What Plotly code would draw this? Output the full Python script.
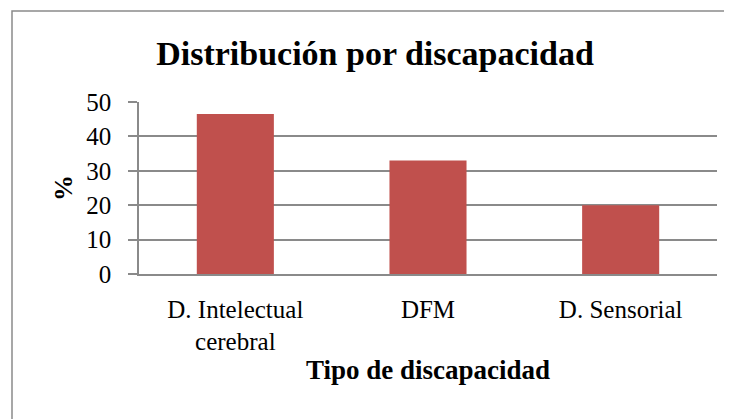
import plotly.graph_objects as go

categories = ["D. Intelectual<br>cerebral", "DFM", "D. Sensorial"]
values = [46.5, 33.0, 20.0]
y_ticks = [0, 10, 20, 30, 40, 50]

title_text = "Distribución por discapacidad"
x_title = "Tipo de discapacidad"
y_title = "%"

FONT = "Liberation Serif"
GRID = "#8a8a8a"

fig = go.Figure(go.Bar(x=categories, y=values, marker=dict(color="#C0504D", line=dict(width=0)), width=0.4))

# page body has an 8px margin, so the figure is sized to fit the window
W, H = 724, 411
L, R, T, B = 131, 15, 94, 145
pw = W - L - R
ph = H - T - B

fig.update_layout(
    width=W, height=H,
    margin=dict(l=L, r=R, t=T, b=B),
    paper_bgcolor="white", plot_bgcolor="white",
    showlegend=False,
    font=dict(family=FONT, size=25, color="black"),
    title=dict(text="<b>" + title_text + "</b>", x=367 / W, xref="container", xanchor="center",
               y=1 - 45 / H, yanchor="middle", font=dict(family=FONT, size=34, color="black")),
    xaxis=dict(showgrid=False, showline=True, linecolor=GRID, linewidth=1.5, ticks="",
               ticklabelstandoff=12,
               title=dict(text="<b>" + x_title + "</b>", font=dict(size=27), standoff=6),
               tickfont=dict(size=25), fixedrange=True),
    yaxis=dict(range=[0, 50], tickvals=y_ticks, showgrid=True, gridcolor=GRID, gridwidth=1.5,
               showline=True, linecolor=GRID, linewidth=1.5, ticks="outside", ticklen=9,
               tickcolor=GRID, tickwidth=1.5, zeroline=False, ticklabelstandoff=12,
               title=dict(text="<b>" + y_title + "</b>", font=dict(size=26), standoff=6),
               tickfont=dict(size=25), fixedrange=True),
    shapes=[dict(type="rect", xref="paper", yref="paper",
                 x0=(4 - L) / pw, x1=(722 - L) / pw,
                 y0=(H - B - 420) / ph, y1=(H - B - 3) / ph,
                 line=dict(color="#8a8a8a", width=1.5), layer="below")],
)

fig.write_html("out.html")
